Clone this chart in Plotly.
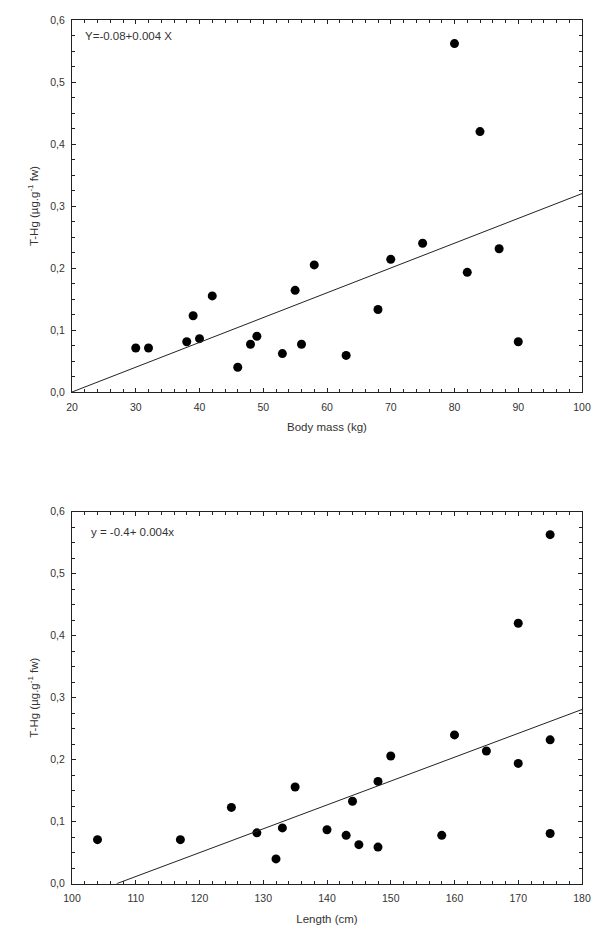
import plotly.graph_objects as go

# Top panel: body mass (kg) vs T-Hg
mass_kg = [30, 32, 38, 39, 40, 42, 46, 48, 49, 53, 55, 56, 58, 63, 68, 70, 75, 80, 82, 84, 87, 90]
hg_mass = [0.071, 0.071, 0.081, 0.123, 0.086, 0.155, 0.040, 0.077, 0.090, 0.062, 0.164, 0.077,
           0.205, 0.059, 0.133, 0.214, 0.240, 0.562, 0.193, 0.420, 0.231, 0.081]
fit_mass_x = [20, 100]
fit_mass_y = [0.0, 0.32]

# Bottom panel: length (cm) vs T-Hg
length_cm = [104, 117, 125, 129, 132, 133, 135, 140, 143, 144, 145, 148, 148, 150, 158, 160,
             165, 170, 170, 175, 175, 175]
hg_len = [0.071, 0.071, 0.123, 0.082, 0.040, 0.090, 0.156, 0.087, 0.078, 0.133, 0.063, 0.165,
          0.059, 0.206, 0.078, 0.240, 0.214, 0.194, 0.420, 0.232, 0.081, 0.563]
fit_len_x = [107, 180]
fit_len_y = [0.0, 0.281]

y_ticks = [0.0, 0.1, 0.2, 0.3, 0.4, 0.5, 0.6]

FONT = "Liberation Sans, Arial, sans-serif"
TXT = "#333333"
AX = "#222222"

# page body has an 8px margin; size the figure so it fits the 600x934 window
OFF = 8
W = 600 - 2 * OFF
H = 934 - 2 * OFF

def xdom(l_px, r_px):
    return [(l_px - OFF) / W, (r_px - OFF) / W]

def ydom(top_px, bot_px):
    return [1 - (bot_px - OFF) / H, 1 - (top_px - OFF) / H]

fig = go.Figure()
mk = dict(color="black", size=9, symbol="circle")
fig.add_trace(go.Scatter(x=mass_kg, y=hg_mass, mode="markers", marker=mk, xaxis="x", yaxis="y"))
fig.add_trace(go.Scatter(x=fit_mass_x, y=fit_mass_y, mode="lines",
                         line=dict(color=AX, width=1), xaxis="x", yaxis="y"))
fig.add_trace(go.Scatter(x=length_cm, y=hg_len, mode="markers", marker=mk, xaxis="x2", yaxis="y2"))
fig.add_trace(go.Scatter(x=fit_len_x, y=fit_len_y, mode="lines",
                         line=dict(color=AX, width=1), xaxis="x2", yaxis="y2"))

common_axis = dict(showline=True, linecolor=AX, linewidth=1, mirror="ticks",
                   ticks="inside", ticklen=4, tickcolor=AX, showgrid=False, zeroline=False,
                   automargin=False,
                   tickfont=dict(family=FONT, size=10.5, color=TXT))
title_font = dict(family=FONT, size=11.5, color=TXT)
xminor = dict(dtick=2, ticks="inside", ticklen=3, tickcolor=AX)
yminor = dict(dtick=0.025, ticks="inside", ticklen=3, tickcolor=AX)

fig.update_layout(
    width=W, height=H,
    margin=dict(l=0, r=0, t=0, b=0),
    paper_bgcolor="white", plot_bgcolor="white",
    showlegend=False,
    separators=",.",
    font=dict(family=FONT, size=10.5, color=TXT),
    xaxis=dict(domain=xdom(72, 582), range=[20, 100], dtick=10, anchor="y", minor=xminor,
               ticklabelstandoff=5,
               title=dict(text="Body mass (kg)", font=title_font, standoff=11),
               **common_axis),
    yaxis=dict(domain=ydom(20, 392), range=[0, 0.6], tickvals=y_ticks, tickformat=".1f", anchor="x",
               minor=yminor, ticklabelstandoff=4,
               title=dict(text="T-Hg (µg.g<sup>-1</sup> fw)", font=title_font, standoff=9),
               **common_axis),
    xaxis2=dict(domain=xdom(72, 582), range=[100, 180], dtick=10, anchor="y2", minor=xminor,
                ticklabelstandoff=5,
                title=dict(text="Length (cm)", font=title_font, standoff=11),
                **common_axis),
    yaxis2=dict(domain=ydom(511.7, 883.7), range=[0, 0.6], tickvals=y_ticks, tickformat=".1f", anchor="x2",
                minor=yminor, ticklabelstandoff=4,
                title=dict(text="T-Hg (µg.g<sup>-1</sup> fw)", font=title_font, standoff=9),
                **common_axis),
    annotations=[
        dict(text="Y=-0.08+0.004 X", xref="paper", yref="paper", x=(83 - OFF) / W, y=1 - (36 - OFF) / H,
             xanchor="left", yanchor="middle", showarrow=False, font=title_font),
        dict(text="y = -0.4+ 0.004x", xref="paper", yref="paper", x=(89 - OFF) / W, y=1 - (531.5 - OFF) / H,
             xanchor="left", yanchor="middle", showarrow=False, font=title_font),
    ],
)

fig.write_html("out.html")
